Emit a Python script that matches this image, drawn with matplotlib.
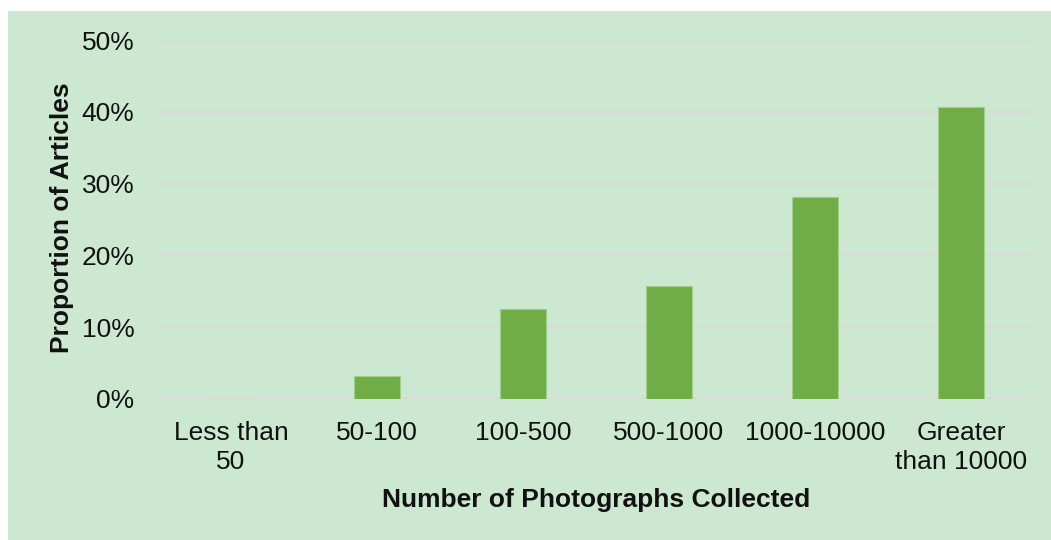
import matplotlib
matplotlib.use("Agg")
import matplotlib.pyplot as plt
from matplotlib.patches import Rectangle
from matplotlib.ticker import PercentFormatter

categories = ["Less than\n50", "50-100", "100-500", "500-1000", "1000-10000", "Greater\nthan 10000"]
proportions = [0.0, 3.2, 12.5, 15.7, 28.1, 40.7]
y_ticks = [0, 10, 20, 30, 40, 50]

plt.rcParams["font.family"] = ["Liberation Sans", "DejaVu Sans"]

bg = "#cde8d0"
bar_color = "#70ad47"
grid_color = "#d9d9d9"
fs = 19

fig = plt.figure(figsize=(10.51, 5.40), dpi=100)
fig.patch.set_facecolor("white")
fig.patches.append(Rectangle((8 / 1051, 0), 1, 1 - 11 / 540, transform=fig.transFigure,
                             facecolor=bg, edgecolor="none", zorder=-10))

ax = fig.add_axes([158 / 1051, 1 - 399 / 540, (1034 - 158) / 1051, (399 - 40) / 540])
ax.set_facecolor("none")

x = range(len(categories))
ax.bar(x, proportions, width=0.315, color=bar_color, edgecolor="#9fcf8a",
       linewidth=0.8, zorder=3)

ax.set_xlim(-0.5, len(categories) - 0.5)
ax.set_ylim(0, 50)
ax.set_yticks(y_ticks)
ax.yaxis.set_major_formatter(PercentFormatter(decimals=0))
ax.grid(axis="y", color=grid_color, linewidth=1.6, zorder=0)
ax.set_axisbelow(True)
for s in ax.spines.values():
    s.set_visible(False)
ax.tick_params(axis="both", length=0, labelsize=fs, colors="#111111")
ax.tick_params(axis="y", pad=17)
ax.tick_params(axis="x", pad=16)
ax.set_xticks(list(x))
ax.set_xticklabels(categories, linespacing=1.25)

fig.text(596 / 1051, 1 - 500 / 540, "Number of Photographs Collected", ha="center",
         va="center", fontsize=fs, fontweight="bold", color="#111111")
fig.text(62 / 1051, 1 - 218 / 540, "Proportion of Articles", ha="center", va="center",
         rotation=90, fontsize=fs, fontweight="bold", color="#111111")

fig.savefig("out.png", dpi=100, facecolor=fig.get_facecolor())
